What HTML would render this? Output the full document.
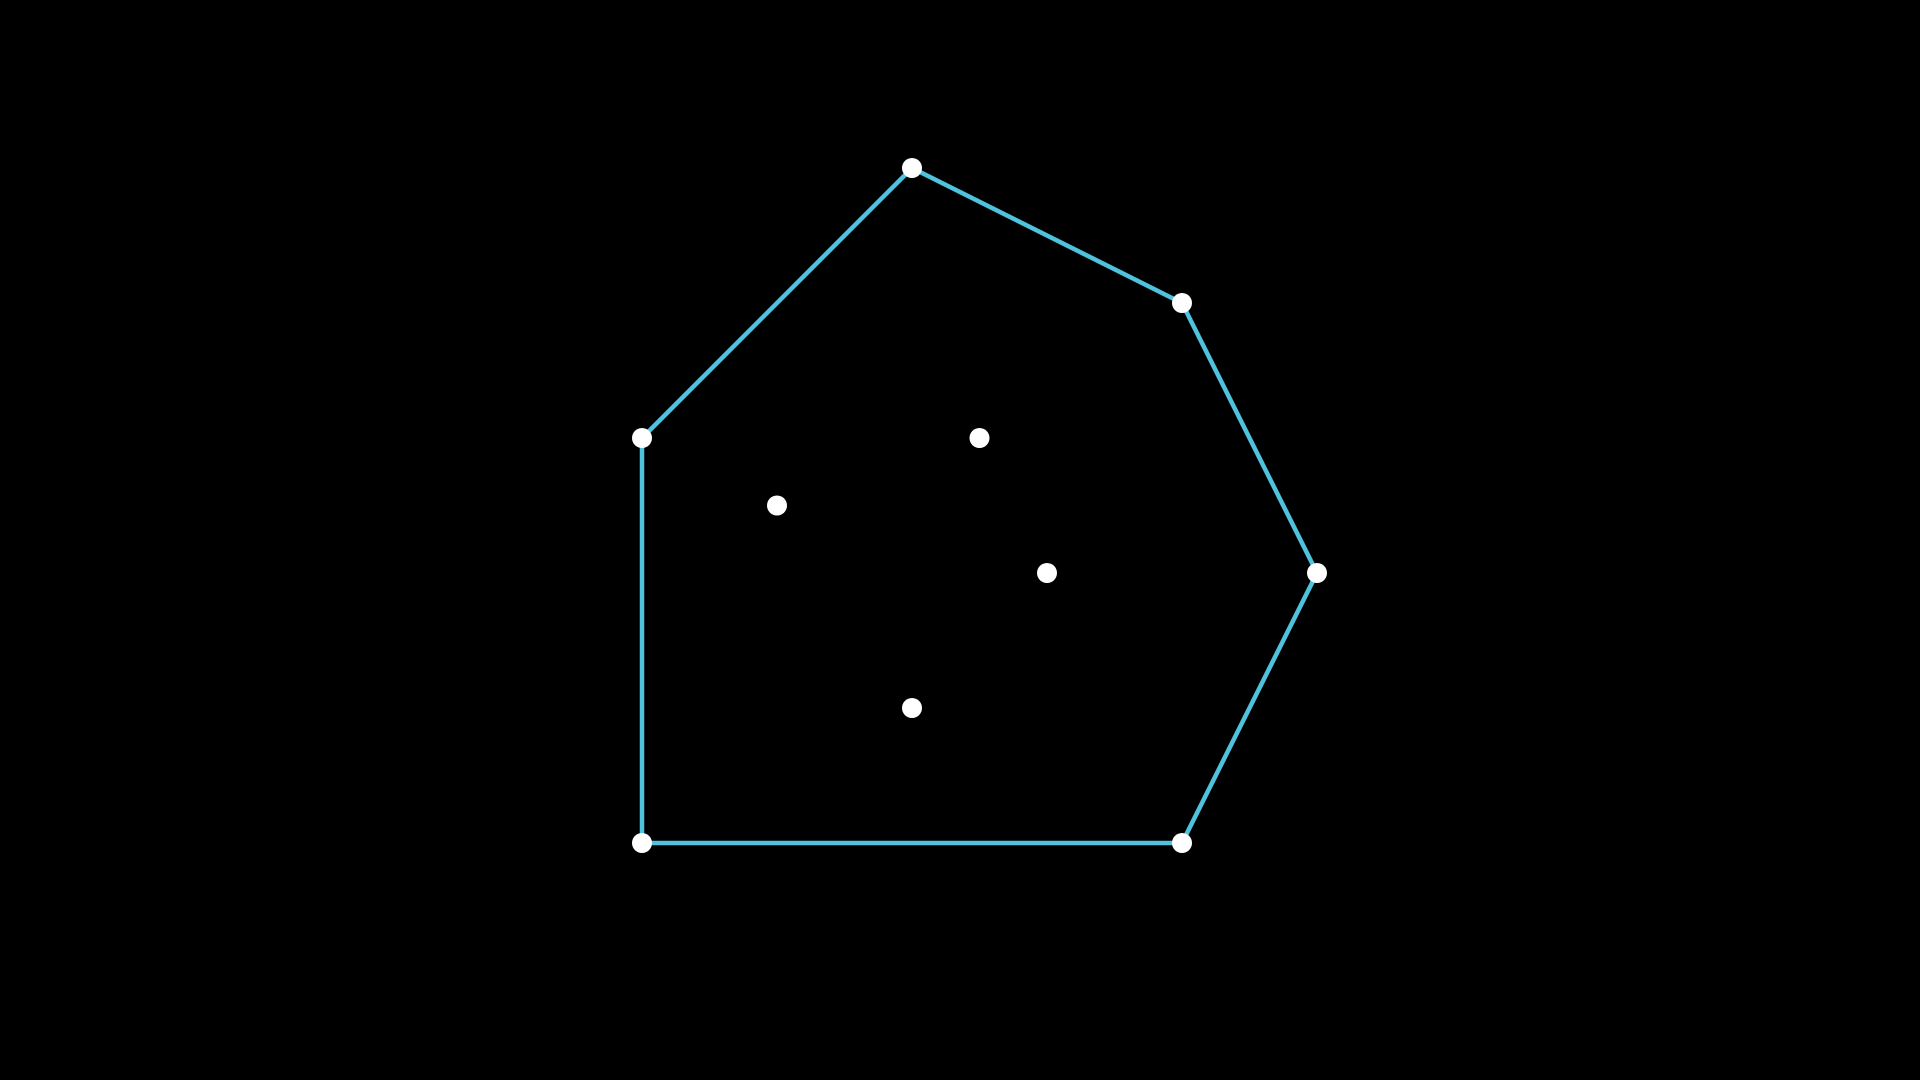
<!DOCTYPE html>
<html><head><meta charset="utf-8"><style>
html,body{margin:0;padding:0;background:#000;width:1920px;height:1080px;overflow:hidden}
svg{display:block}
</style></head><body>
<svg id="chart" width="1920" height="1080" viewBox="0 0 1920 1080">
<rect width="1920" height="1080" fill="#000"/>
<g id="hull"></g>
<g id="pts"></g>
</svg>
<script>
const pointX = [2, 4, 5, 4, 0, 0, 2.5, 1, 3, 2];
const pointY = [0, 1, 3, 5, 5, 2, 2, 2.5, 3, 4];
const hullOrder = [0, 1, 2, 3, 4, 5];
const NS = 'http://www.w3.org/2000/svg';
function xs(u){return 642 + 135*u;}
function ys(v){return 168 + 135*v;}
const hull = document.getElementById('hull');
const poly = document.createElementNS(NS,'polygon');


poly.setAttribute('points', hullOrder.map(i => xs(pointX[i]) + ',' + ys(pointY[i])).join(' '));
poly.setAttribute('fill','none');
poly.setAttribute('stroke','#4fc2dd');
poly.setAttribute('stroke-width','4.5');
hull.appendChild(poly);
const pts = document.getElementById('pts');
for (let i = 0; i < pointX.length; i++) {
  const c = document.createElementNS(NS,'circle');
  
  
  c.setAttribute('cx', xs(pointX[i]));
  c.setAttribute('cy', ys(pointY[i]));
  c.setAttribute('r', 10);
  c.setAttribute('fill', '#fff');
  pts.appendChild(c);
}
</script>
</body></html>
